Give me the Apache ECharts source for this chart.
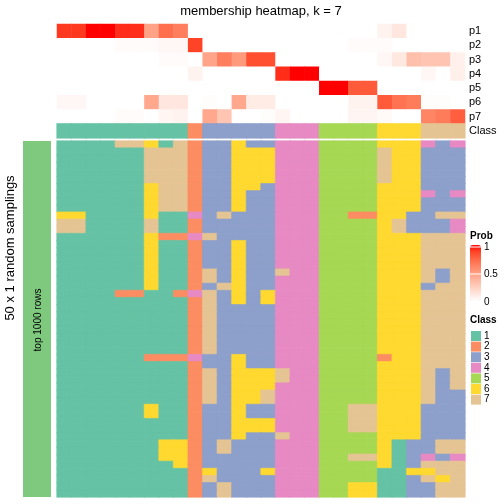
<!DOCTYPE html>
<html><head><meta charset="utf-8">
<script src="https://cdn.jsdelivr.net/npm/echarts@6/dist/echarts.min.js"></script>
<style>html,body{margin:0;padding:0;background:#fff}#c{width:504px;height:504px}</style>
</head><body><div id="c"></div><script>
const probNames = ['p1','p2','p3','p4','p5','p6','p7'];
const p1 = [0.9,0.9,1,1,0.92,0.92,0.48,0.72,0.65, 0, 0,0,0,0,0, 0,0,0, 0,0,0,0, 0.06,0.13,0, 0,0,0];
const p2 = [0,0,0,0,0.02,0.02,0.02,0.04,0.04, 0.88, 0,0,0,0,0, 0,0,0, 0,0,0.02,0.02, 0.02,0,0, 0,0,0];
const p3 = [0,0,0,0,0,0,0,0.02,0.02, 0, 0.47,0.65,0.52,0.84,0.84, 0,0,0, 0,0,0,0, 0.04,0.12,0.33, 0.3,0.3,0.08];
const p4 = [0,0,0,0,0,0,0,0,0, 0.06, 0,0,0,0,0, 0.92,1,1, 0,0,0,0, 0,0,0, 0.04,0,0.08];
const p5 = [0,0,0,0,0,0,0,0,0, 0, 0,0,0,0,0, 0,0,0, 1,1,0.8,0.8, 0,0,0, 0,0,0];
const p6 = [0.04,0.04,0,0,0,0,0.45,0.13,0.13, 0, 0.01,0,0.45,0.1,0.1, 0,0,0, 0,0,0.06,0.06, 0.8,0.7,0.66, 0.01,0.01,0];
const p7 = [0,0,0,0,0.02,0.02,0,0.05,0.06, 0, 0.45,0.3,0,0,0.01, 0.05,0,0, 0,0,0.05,0.05, 0.03,0,0, 0.62,0.66,0.78];
const classRow = '1111111112333334445555666777';
const samplings = [
'1111776172336334445555666434',
'1111117772336664445555766333',
'1111117772336664445555766333',
'1111117772336664445555766333',
'1111117772336664445555766333',
'1111117772336664445555766333',
'1111116772336634445555666333',
'1111116772336334445555666434',
'1111116772336334445555666333',
'1111116772336334445555666333',
'6611116114373334445522663377',
'7711117112333334445555673334',
'7711117112333334445555673334',
'1111116224733334445555666777',
'1111116112336334445555666777',
'1111116112336334445555666777',
'1111116112336334445555666777',
'1111116112336334445555666777',
'1111116112736337445555666737',
'1111116112736334445555666737',
'1111116112376334445555666377',
'1111221124736364445555666777',
'1111111112736364445555666777',
'1111111112733334445555666777',
'1111111112733334445555666777',
'1111111112733334445555666777',
'1111111112733334445555666777',
'1111111112733334445555666777',
'1111111112733334445555666777',
'1111111112733334445555666777',
'1111112224336334445555266777',
'1111111112336334445555666777',
'1111111112736667445555666737',
'1111111112736667445555666737',
'1111111112736664445555666737',
'1111111112736674445555666733',
'1111111112736674445555666733',
'1111116112336334445577666333',
'1111116112336334445577666333',
'1111111112336664445577666333',
'1111111112336664445577666333',
'1111111112336337445555666333',
'1111111662373334445555613377',
'1111111662373334445555613377',
'1111111662333334445577613434',
'1111111162333334445555613777',
'1111111112633364445555116677',
'1111111112733334445555113767',
'1111111112373334445566113377',
'1111111112373334445566113377'
];
const classLabels = ['1','2','3','4','5','6','7'];
const classColors = ['#66C2A5','#FC8D62','#8DA0CB','#E78AC3','#A6D854','#FFD92F','#E5C494'];
const probTicks = ['1','0.5','0'];

const font = "'Liberation Sans', Arial, Helvetica, sans-serif";
const nCols = classRow.length;
const cols = Array.from({length:nCols},(_,i)=>'c'+(i+1));
const probRows = [p1,p2,p3,p4,p5,p6,p7];
const probData = [];
probRows.forEach((arr,r)=>arr.forEach((v,c)=>probData.push([c,r,v])));
const classItem = (c,r,d) => ({value:[c,r,d], itemStyle:{borderColor:classColors[d-1], borderWidth:0.6}});
const classData = classRow.split('').map((d,c)=>classItem(c,7,+d));
const sampData = [];
samplings.forEach((row,r)=>row.split('').forEach((d,c)=>sampData.push(classItem(c,r,+d))));

const chart = echarts.init(document.getElementById('c'), null, {renderer:'canvas'});
const txt = (text, x, y, size, opts={}) => Object.assign({
  type:'text', x:x, y:y,
  style:{text:text, font:(opts.bold?'bold ':'')+size+'px '+font, fill:'#000',
    align:opts.align||'left', textAlign:opts.align||'left',
    verticalAlign:'middle', textVerticalAlign:'middle'}
}, opts.rotation!==undefined?{rotation:opts.rotation}:{});

chart.setOption({
  animation:false,
  grid:[
    {left:57, top:24, width:408, height:114},
    {left:57, top:141, width:408, height:356}
  ],
  xAxis:[
    {type:'category', data:cols, gridIndex:0, show:false},
    {type:'category', data:cols, gridIndex:1, show:false}
  ],
  yAxis:[
    {type:'category', data:probNames.concat(['Class']), gridIndex:0, inverse:true, position:'right',
     axisLine:{show:false}, axisTick:{show:false}, splitLine:{show:false},
     axisLabel:{margin:4, interval:0, fontSize:11, color:'#000', fontFamily:font}},
    {type:'category', data:samplings.map((_,i)=>'s'+(i+1)), gridIndex:1, inverse:true, show:false}
  ],
  visualMap:[
    {type:'continuous', min:0, max:1, seriesIndex:0, calculable:false, hoverLink:false,
     inRange:{color:['#FFFFFF','#FFE7DF','#FFCFBE','#FFB7A0','#FF9E81','#FF8463','#FF6746','#FF4628','#FF0000']},
     orient:'vertical', left:470, top:245, itemWidth:11, itemHeight:56, padding:0},
    {type:'piecewise', seriesIndex:[1,2], hoverLink:false, selectedMode:false,
     pieces:classLabels.map((l,i)=>({value:i+1, label:l, color:classColors[i]})),
     orient:'vertical', inverse:true, align:'left', left:471, top:331, itemWidth:10, itemHeight:10, itemGap:0.6, textGap:3,
     itemSymbol:'rect', padding:0, textStyle:{fontSize:10, color:'#000', fontFamily:font}}
  ],
  series:[
    {type:'heatmap', xAxisIndex:0, yAxisIndex:0, data:probData},
    {type:'heatmap', xAxisIndex:0, yAxisIndex:0, data:classData},
    {type:'heatmap', xAxisIndex:1, yAxisIndex:1, data:sampData}
  ],
  graphic:[
    txt('membership heatmap, k = 7', 261, 11, 13, {align:'center'}),
    {type:'rect', shape:{x:23, y:141, width:28, height:356}, style:{fill:'#7FC97F'}},
    txt('50 x 1 random samplings', 10, 248, 13, {align:'center', rotation:Math.PI/2}),
    txt('top 1000 rows', 38, 320, 10, {align:'center', rotation:Math.PI/2}),
    txt('Prob', 470, 236, 10, {bold:true}),
    {type:'line', shape:{x1:470, y1:247, x2:481, y2:247}, style:{stroke:'#fff', lineWidth:1}, z:100},
    {type:'line', shape:{x1:470, y1:274, x2:481, y2:274}, style:{stroke:'#fff', lineWidth:1}, z:100},
    txt(probTicks[0], 484, 247, 10),
    txt(probTicks[1], 484, 274.5, 10),
    txt(probTicks[2], 484, 302, 10),
    txt('Class', 470, 320, 10, {bold:true})
  ]
});
</script></body></html>
